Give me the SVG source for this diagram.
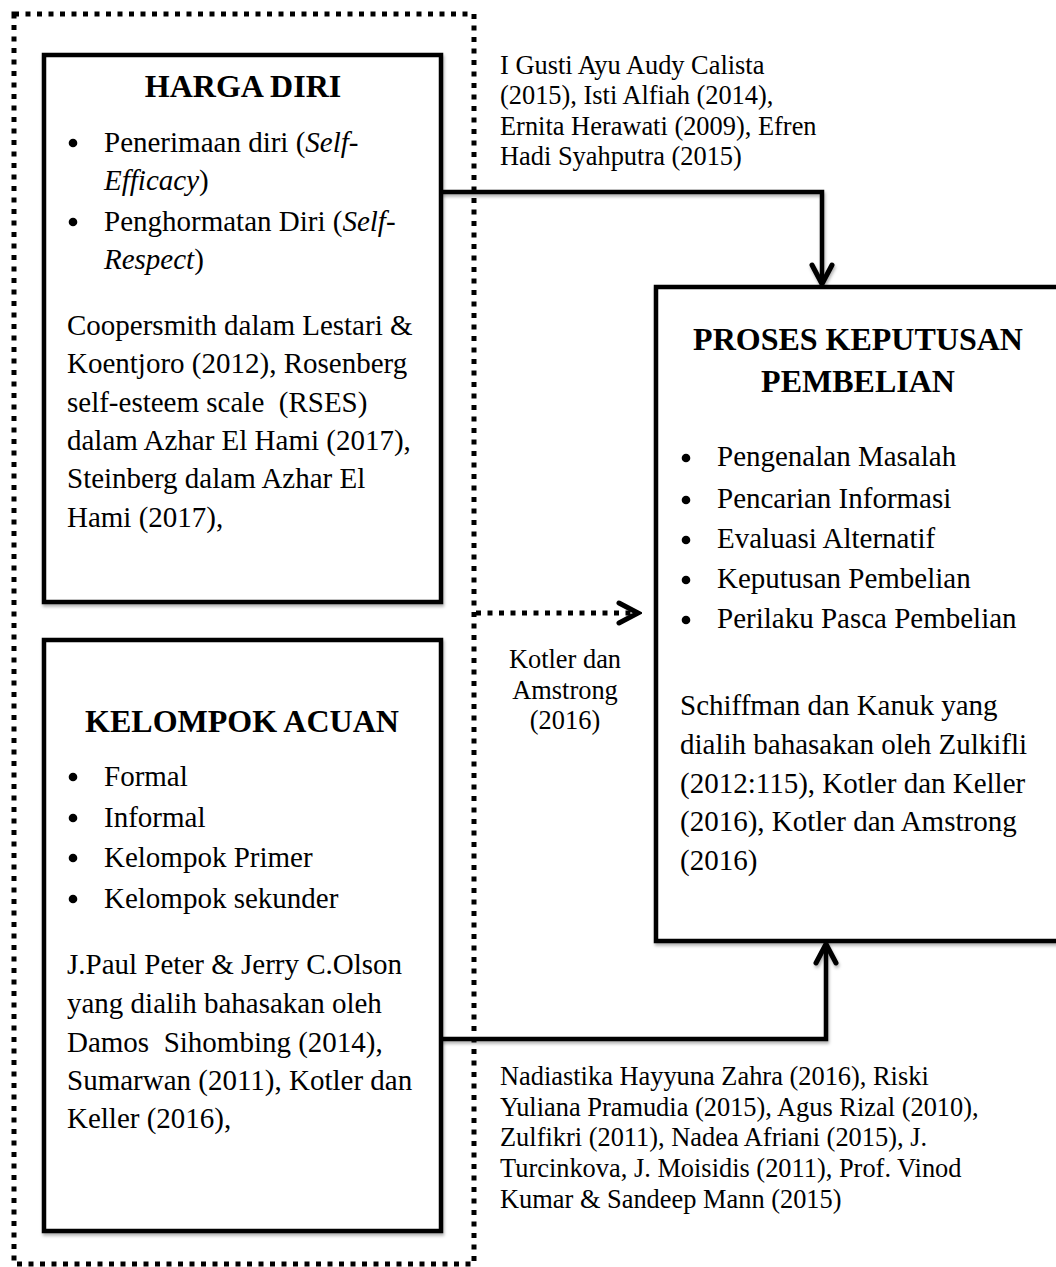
<svg xmlns="http://www.w3.org/2000/svg" width="1056" height="1267" viewBox="0 0 1056 1267">
<style>
  text { font-family: "Liberation Serif", "Times New Roman", serif; fill: #000; white-space: pre; }
  .body { font-size: 29px; }
  .lbl { font-size: 26.4px; }
  .title { font-size: 32px; font-weight: bold; text-anchor: middle; }
  .it { font-style: italic; }
  .bul { fill: #000; }
  .box { fill: #fff; stroke: #000; stroke-width: 4.5; filter: url(#sh); }
  .conn { fill: none; stroke: #000; stroke-width: 4.5; filter: url(#sh); }
  .dots { fill: none; stroke: #000; stroke-width: 5; stroke-dasharray: 5 6.5; }
</style>
<defs>
  <filter id="sh" x="-5%" y="-5%" width="115%" height="115%">
    <feDropShadow dx="1" dy="2.5" stdDeviation="1.5" flood-color="#000" flood-opacity="0.3"/>
  </filter>
  <marker id="chev" viewBox="-24 -14 28 28" refX="0" refY="0" markerWidth="28" markerHeight="28" markerUnits="userSpaceOnUse" orient="auto">
    <path d="M -19 -10 L 0 0 L -19 10" fill="none" stroke="#000" stroke-width="5" stroke-linecap="round" stroke-linejoin="miter" stroke-dasharray="none"/>
  </marker>
</defs>
<rect width="1056" height="1267" fill="#fff"/>

<rect id="group-border" class="dots" x="14" y="14" width="460" height="1250"/>

<g id="connectors">
  <path class="conn" d="M 441 192 H 822 V 284" marker-end="url(#chev)"/>
  <path class="conn" d="M 441 1039 H 826 V 944" marker-end="url(#chev)"/>
  <path class="dots" d="M 476 613 H 638" marker-end="url(#chev)"/>
</g>

<g id="harga-diri">
  <rect class="box" x="44" y="55" width="397" height="547"/>
  <text class="title" x="243" y="97">HARGA DIRI</text>
  <circle class="bul" cx="73" cy="143" r="4.3"/>
  <text class="body" x="104" y="152">Penerimaan diri (<tspan class="it">Self-</tspan></text>
  <text class="body" x="104" y="190"><tspan class="it">Efficacy</tspan>)</text>
  <circle class="bul" cx="73" cy="222" r="4.3"/>
  <text class="body" x="104" y="231">Penghormatan Diri (<tspan class="it">Self-</tspan></text>
  <text class="body" x="104" y="269"><tspan class="it">Respect</tspan>)</text>
  <text class="body" x="67" y="335">Coopersmith dalam Lestari &amp;</text>
  <text class="body" x="67" y="373">Koentjoro (2012), Rosenberg</text>
  <text class="body" x="67" y="412">self-esteem scale  (RSES)</text>
  <text class="body" x="67" y="450">dalam Azhar El Hami (2017),</text>
  <text class="body" x="67" y="488">Steinberg dalam Azhar El</text>
  <text class="body" x="67" y="527">Hami (2017),</text>
</g>

<g id="kelompok-acuan">
  <rect class="box" x="44" y="640" width="397" height="591"/>
  <text class="title" x="242" y="732">KELOMPOK ACUAN</text>
  <circle class="bul" cx="73" cy="777" r="4.3"/>
  <text class="body" x="104" y="786">Formal</text>
  <circle class="bul" cx="73" cy="818" r="4.3"/>
  <text class="body" x="104" y="827">Informal</text>
  <circle class="bul" cx="73" cy="858" r="4.3"/>
  <text class="body" x="104" y="867">Kelompok Primer</text>
  <circle class="bul" cx="73" cy="899" r="4.3"/>
  <text class="body" x="104" y="908">Kelompok sekunder</text>
  <text class="body" x="67" y="974">J.Paul Peter &amp; Jerry C.Olson</text>
  <text class="body" x="67" y="1013">yang dialih bahasakan oleh</text>
  <text class="body" x="67" y="1052">Damos  Sihombing (2014),</text>
  <text class="body" x="67" y="1090">Sumarwan (2011), Kotler dan</text>
  <text class="body" x="67" y="1128">Keller (2016),</text>
</g>

<g id="proses-keputusan">
  <rect class="box" x="656" y="287" width="410" height="654"/>
  <text class="title" x="858" y="350">PROSES KEPUTUSAN</text>
  <text class="title" x="858" y="392">PEMBELIAN</text>
  <circle class="bul" cx="686" cy="458" r="4.3"/>
  <text class="body" x="717" y="466">Pengenalan Masalah</text>
  <circle class="bul" cx="686" cy="500" r="4.3"/>
  <text class="body" x="717" y="508">Pencarian Informasi</text>
  <circle class="bul" cx="686" cy="540" r="4.3"/>
  <text class="body" x="717" y="548">Evaluasi Alternatif</text>
  <circle class="bul" cx="686" cy="580" r="4.3"/>
  <text class="body" x="717" y="588">Keputusan Pembelian</text>
  <circle class="bul" cx="686" cy="620" r="4.3"/>
  <text class="body" x="717" y="628">Perilaku Pasca Pembelian</text>
  <text class="body" x="680" y="715">Schiffman dan Kanuk yang</text>
  <text class="body" x="680" y="754">dialih bahasakan oleh Zulkifli</text>
  <text class="body" x="680" y="793">(2012:115), Kotler dan Keller</text>
  <text class="body" x="680" y="831">(2016), Kotler dan Amstrong</text>
  <text class="body" x="680" y="870">(2016)</text>
</g>

<g id="label-top">
  <text class="lbl" x="500" y="74">I Gusti Ayu Audy Calista</text>
  <text class="lbl" x="500" y="104">(2015), Isti Alfiah (2014),</text>
  <text class="lbl" x="500" y="135">Ernita Herawati (2009), Efren</text>
  <text class="lbl" x="500" y="165">Hadi Syahputra (2015)</text>
</g>

<g id="label-middle">
  <text class="lbl" x="565" y="668" text-anchor="middle">Kotler dan</text>
  <text class="lbl" x="565" y="699" text-anchor="middle">Amstrong</text>
  <text class="lbl" x="565" y="729" text-anchor="middle">(2016)</text>
</g>

<g id="label-bottom">
  <text class="lbl" x="500" y="1085">Nadiastika Hayyuna Zahra (2016), Riski</text>
  <text class="lbl" x="500" y="1116">Yuliana Pramudia (2015), Agus Rizal (2010),</text>
  <text class="lbl" x="500" y="1146">Zulfikri (2011), Nadea Afriani (2015), J.</text>
  <text class="lbl" x="500" y="1177">Turcinkova, J. Moisidis (2011), Prof. Vinod</text>
  <text class="lbl" x="500" y="1208">Kumar &amp; Sandeep Mann (2015)</text>
</g>
</svg>
